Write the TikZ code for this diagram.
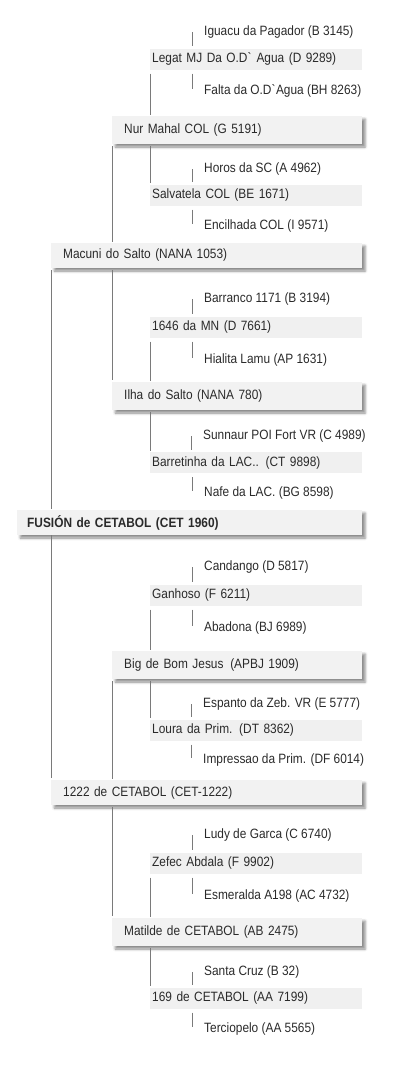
\documentclass[tikz,border=0pt]{standalone}
\usepackage{fontspec}
\setmainfont[FakeStretch=0.88]{Liberation Sans}
\usepackage{xcolor}
\usetikzlibrary{shadows.blur}
\definecolor{boxgray}{HTML}{F2F2F2}
\definecolor{sirebox}{HTML}{F0F0F0}
\definecolor{linegray}{HTML}{7A7A7A}
\definecolor{namecol}{HTML}{2A2A2A}

\begin{document}
\begin{tikzpicture}[x=1pt, y=-1pt,
    every node/.style={font=\fontsize{13.5}{16}\selectfont, text=namecol},
    mainbox/.style={anchor=west, fill=boxgray, minimum height=#1, inner ysep=0pt, align=left,
        blur shadow={shadow xshift=3pt, shadow yshift=-3pt, shadow blur radius=2.5pt, shadow opacity=45}},
    rootbox/.style={mainbox=25pt, inner xsep=10pt, text width=325pt, font=\fontsize{13.5}{16}\selectfont\bfseries},
    parbox/.style={mainbox=25pt, inner xsep=12pt, text width=287pt},
    gpbox/.style={mainbox=28pt, inner xsep=12pt, text width=226pt},
    ggpbox/.style={anchor=west, fill=sirebox, minimum height=21pt, inner ysep=0pt, inner xsep=2pt, text width=208pt, align=left},
    gggp/.style={anchor=west, inner sep=0pt},
    link/.style={draw=linegray, line width=0.8pt}]
    \useasboundingbox (0,0) rectangle (400,1069);

    % Subject
    \node[rootbox] (fusion) at (17,522.5) {FUSIÓN de CETABOL (CET 1960)};

    % Sire side
    \node[parbox] (macuni) at (51,255.5) {Macuni do Salto (NANA 1053)};
    \node[gpbox] (nurmahal) at (112,130) {Nur Mahal COL (G 5191)};
    \node[gpbox] (ilha) at (112,396) {Ilha do Salto (NANA 780)};
    \node[ggpbox] (legat) at (150,59) {Legat MJ Da O.D\textasciigrave{} Agua (D 9289)};
    \node[ggpbox] (salvatela) at (150,195) {Salvatela COL (BE 1671)};
    \node[ggpbox] (b1646) at (150,327) {1646 da MN (D 7661)};
    \node[ggpbox] (barretinha) at (150,462.5) {Barretinha da LAC.. (CT 9898)};
    \node[gggp] (iguacu) at (204,32) {Iguacu da Pagador (B 3145)};
    \node[gggp] (falta) at (204,91) {Falta da O.D\textasciigrave{}Agua (BH 8263)};
    \node[gggp] (horos) at (204,169) {Horos da SC (A 4962)};
    \node[gggp] (encilhada) at (204,226) {Encilhada COL (I 9571)};
    \node[gggp] (barranco) at (204,299) {Barranco 1171 (B 3194)};
    \node[gggp] (hialita) at (204,360) {Hialita Lamu (AP 1631)};
    \node[gggp] (sunnaur) at (203,436) {Sunnaur POI Fort VR (C 4989)};
    \node[gggp] (nafe) at (204,493) {Nafe da LAC. (BG 8598)};

    % Dam side
    \node[parbox] (cet1222) at (51,792.5) {1222 de CETABOL (CET-1222)};
    \node[gpbox] (big) at (112,665) {Big de Bom Jesus\, (APBJ 1909)};
    \node[gpbox] (matilde) at (112,932) {Matilde de CETABOL (AB 2475)};
    \node[ggpbox] (ganhoso) at (150,595) {Ganhoso (F 6211)};
    \node[ggpbox] (loura) at (150,730) {Loura da Prim. (DT 8362)};
    \node[ggpbox] (zefec) at (150,863) {Zefec Abdala (F 9902)};
    \node[ggpbox] (c169) at (150,998) {169 de CETABOL (AA 7199)};
    \node[gggp] (candango) at (204,567) {Candango (D 5817)};
    \node[gggp] (abadona) at (204,628) {Abadona (BJ 6989)};
    \node[gggp] (espanto) at (203,704) {Espanto da Zeb. VR (E 5777)};
    \node[gggp] (impressao) at (203,760) {Impressao da Prim. (DF 6014)};
    \node[gggp] (ludy) at (204,835) {Ludy de Garca (C 6740)};
    \node[gggp] (esmeralda) at (204,896) {Esmeralda A198 (AC 4732)};
    \node[gggp] (santacruz) at (204,972) {Santa Cruz (B 32)};
    \node[gggp] (terciopelo) at (204,1029) {Terciopelo (AA 5565)};

    % Subject to parents
    \draw[link, shorten <=2pt, shorten >=1pt] (macuni.south west) -- (macuni.south west |- fusion.north);
    \draw[link, shorten >=2pt] (cet1222.north west |- fusion.south) -- (cet1222.north west);

    % Parents to grandparents
    \foreach \parent/\up/\down in {macuni/nurmahal/ilha, cet1222/big/matilde} {
        \draw[link, shorten <=2pt, shorten >=1pt] (\up.south west) -- (\up.south west |- \parent.north);
        \draw[link, shorten <=2pt, shorten >=2pt] (\down.north west |- \parent.south) -- (\down.north west);
    }

    % Grandparents to great-grandparents
    \foreach \gp/\up/\down in {nurmahal/legat/salvatela, ilha/b1646/barretinha,
                               big/ganhoso/loura, matilde/zefec/c169} {
        \draw[link, shorten <=4pt, shorten >=1pt] (\up.south west) -- (\up.south west |- \gp.north);
        \draw[link, shorten <=2pt, shorten >=1pt] (\down.north west |- \gp.south) -- (\down.north west);
    }

    % Great-grandparents to their parents
    \foreach \ggp/\up/\down in {legat/iguacu/falta, salvatela/horos/encilhada,
                                b1646/barranco/hialita, barretinha/sunnaur/nafe,
                                ganhoso/candango/abadona, loura/espanto/impressao,
                                zefec/ludy/esmeralda, c169/santacruz/terciopelo} {
        \draw[link, shorten >=2pt] ([xshift=-12pt]\up.west) -- ([xshift=-12pt]\up.west |- \ggp.north);
        \draw[link, shorten <=4pt, shorten >=2pt] ([xshift=-12pt]\down.west |- \ggp.south) -- ([xshift=-12pt]\down.west);
    }
\end{tikzpicture}
\end{document}
